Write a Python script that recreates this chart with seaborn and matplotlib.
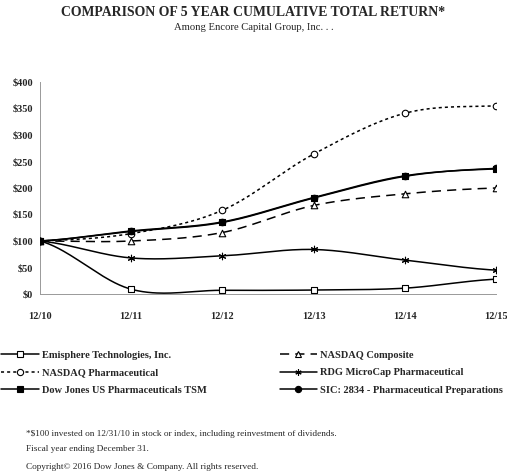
import numpy as np
import pandas as pd
import matplotlib
matplotlib.use('Agg')
import matplotlib.pyplot as plt
import seaborn as sns
from matplotlib.lines import Line2D

sns.set_style("white")
plt.rcParams['font.family'] = ['Liberation Serif', 'DejaVu Serif']

years = ['12/10', '12/11', '12/12', '12/13', '12/14', '12/15']
emisphere = [100, 9, 7, 7.5, 11, 28]
nasdaq_comp = [100, 100, 116, 167, 189, 200]
nasdaq_pharma = [100, 114, 158, 264, 341, 355]
rdg_microcap = [100, 68, 72, 84, 64, 45]
dj_pharma = [100, 119, 136, 182, 223, 236]
sic_2834 = [100, 118, 135, 181, 222, 237]

series = [
    # name, values, linestyle, marker, facecolor, z
    ('Emisphere Technologies, Inc.', emisphere, '-', 's', 'white', 3),
    ('NASDAQ Pharmaceutical', nasdaq_pharma, (0, (2, 2)), 'o', 'white', 3),
    ('Dow Jones US Pharmaceuticals TSM', dj_pharma, '-', 's', 'black', 4),
    ('NASDAQ Composite', nasdaq_comp, (0, (6, 4)), '^', 'white', 3),
    ('RDG MicroCap Pharmaceutical', rdg_microcap, '-', (6, 2, 0), 'black', 3),
    ('SIC: 2834 - Pharmaceutical Preparations', sic_2834, '-', 'o', 'black', 3),
]


def smooth(y, n=40):
    # Bezier smoothing between points (like a spreadsheet "smoothed line")
    y = np.asarray(y, float)
    x = np.arange(len(y), dtype=float)
    xs, ys = [], []
    for i in range(len(y) - 1):
        p0 = y[i - 1] if i > 0 else y[i]
        p3 = y[i + 2] if i + 2 < len(y) else y[i + 1]
        c1 = y[i] + (y[i + 1] - p0) / 6
        c2 = y[i + 1] - (p3 - y[i]) / 6
        t = np.linspace(0, 1, n)
        b = ((1 - t) ** 3 * y[i] + 3 * (1 - t) ** 2 * t * c1
             + 3 * (1 - t) * t ** 2 * c2 + t ** 3 * y[i + 1])
        xs.append(x[i] + t)
        ys.append(b)
    return np.concatenate(xs), np.concatenate(ys)


fig = plt.figure(figsize=(5.07, 4.75), dpi=100)
ax = fig.add_axes([40 / 507, (475 - 294) / 475, (496 - 40) / 507, (294 - 82) / 475])

handles = []
for name, vals, ls, mk, fc, z in series:
    sx, sy = smooth(vals)
    sns.lineplot(x=sx, y=sy, ax=ax, color='black', linestyle=ls, linewidth=1.1,
                 zorder=z, estimator=None, sort=False)
    df = pd.DataFrame({'x': np.arange(len(years)), 'y': vals})
    sns.scatterplot(data=df, x='x', y='y', ax=ax, marker=mk, s=22,
                    facecolor=fc, edgecolor='black', linewidth=0.8, zorder=z + 1)
    handles.append(Line2D([], [], color='black', linestyle=ls, linewidth=1.1, marker=mk,
                          markersize=4.5, markerfacecolor=fc, markeredgecolor='black',
                          markeredgewidth=0.8, label=name))

ax.set_xlim(0, 5)
ax.set_ylim(0, 400)
ax.set_xticks(range(len(years)))
ax.set_xticklabels(years)
ax.set_yticks(range(0, 401, 50))
ax.set_yticklabels(['$%d' % v for v in range(0, 401, 50)])
ax.set_xlabel('')
ax.set_ylabel('')
for lab in ax.get_xticklabels() + ax.get_yticklabels():
    lab.set_fontweight('bold')
    lab.set_fontsize(7.5)
ax.tick_params(axis='both', length=3, width=0.6, color='#999999', pad=2)
ax.tick_params(axis='x', pad=10)
sns.despine(ax=ax)
for sp in ['left', 'bottom']:
    ax.spines[sp].set_color('#999999')
    ax.spines[sp].set_linewidth(0.7)
ax.margins(0)

fig.text(0.5, 1 - 12 / 475, 'COMPARISON OF 5 YEAR CUMULATIVE TOTAL RETURN*',
         ha='center', va='center', fontsize=9.9, fontweight='bold')
fig.text(0.5, 1 - 27 / 475, 'Among Encore Capital Group, Inc. . .',
         ha='center', va='center', fontsize=7.7)

fig.legend(handles=handles, ncol=2, loc='upper left',
           bbox_to_anchor=(-8 / 507, 1 - 341 / 475), frameon=False,
           prop={'weight': 'bold', 'size': 7.5}, handlelength=3.6,
           handletextpad=0.3, columnspacing=7.0, labelspacing=0.8)

fig.text(26 / 507, 1 - 434 / 475,
         '*$100 invested on 12/31/10 in stock or index, including reinvestment of dividends.',
         fontsize=6.65, va='center')
fig.text(26 / 507, 1 - 449 / 475, 'Fiscal year ending December 31.', fontsize=6.65, va='center')
fig.text(26 / 507, 1 - 467 / 475, 'Copyright\u00a9 2016 Dow Jones & Company. All rights reserved.',
         fontsize=6.65, va='center')

fig.savefig('out.png', dpi=100)
